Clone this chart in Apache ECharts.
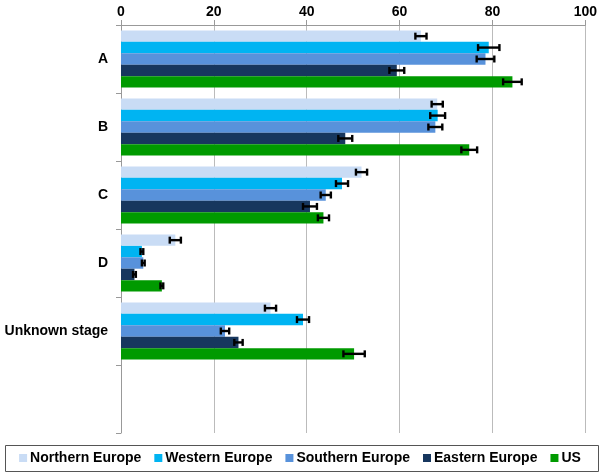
<!DOCTYPE html>
<html>
<head>
<meta charset="utf-8">
<script src="https://cdn.jsdelivr.net/npm/echarts@6/dist/echarts.min.js"></script>
<style>html,body{margin:0;padding:0;background:#fff}#c{width:600px;height:472px}</style>
</head>
<body>
<div id="c"></div>
<script>
const categories = ['A', 'B', 'C', 'D', 'Unknown stage', ''];
const seriesNames = ['Northern Europe', 'Western Europe', 'Southern Europe', 'Eastern Europe', 'US'];
const colors = ['#C9DCF5', '#00B4F2', '#5892DB', '#17375E', '#009A00'];
const northern = [64.6, 68.1, 51.8, 11.7, 32.2, null];
const western  = [79.2, 68.2, 47.6, 4.5, 39.2, null];
const southern = [78.5, 67.7, 44.1, 4.8, 22.4, null];
const eastern  = [59.4, 48.3, 40.7, 2.9, 25.3, null];
const us       = [84.3, 75.0, 43.6, 8.8, 50.2, null];
const northernErr = [1.2, 1.2, 1.2, 1.2, 1.2, null];
const westernErr  = [2.3, 1.6, 1.3, 0.3, 1.3, null];
const southernErr = [1.9, 1.5, 1.1, 0.3, 0.9, null];
const easternErr  = [1.6, 1.5, 1.5, 0.3, 0.9, null];
const usErr       = [2.0, 1.7, 1.2, 0.3, 2.3, null];
const xTicks = [0, 20, 40, 60, 80, 100];

const values = [northern, western, southern, eastern, us];
const errs = [northernErr, westernErr, southernErr, easternErr, usErr];
const GAP = 0.16;
const N = seriesNames.length;

const chart = echarts.init(document.getElementById('c'), null, {renderer: 'canvas'});
const series = [];
values.forEach((vals, i) => {
  series.push({
    name: seriesNames[i], type: 'bar', data: vals,
    barCategoryGap: (GAP * 100) + '%', barGap: '0%',
    itemStyle: {color: colors[i]}, animation: false
  });
});
values.forEach((vals, i) => {
  const data = [];
  vals.forEach((v, k) => { if (v != null) data.push([k, v, errs[i][k]]); });
  series.push({
    type: 'custom', name: 'err' + i, silent: true, animation: false, z: 10,
    encode: {x: 1, y: 0},
    data: data,
    renderItem: function (params, api) {
      const cat = api.value(0), v = api.value(1), e = api.value(2);
      const band = api.size([0, 1])[1];
      const used = band * (1 - GAP);
      const bw = used / N;
      const c = api.coord([v, cat]);
      const y = c[1] - used / 2 + bw * (i + 0.5);
      const x1 = api.coord([v - e, cat])[0];
      const x2 = api.coord([v + e, cat])[0];
      const h = 3.5;
      const st = {stroke: '#000', lineWidth: 2.4};
      return {type: 'group', children: [
        {type: 'line', shape: {x1: x1, y1: y, x2: x2, y2: y}, style: st},
        {type: 'line', shape: {x1: x1, y1: y - h, x2: x1, y2: y + h}, style: st},
        {type: 'line', shape: {x1: x2, y1: y - h, x2: x2, y2: y + h}, style: st}
      ]};
    }
  });
});

chart.setOption({
  animation: false,
  textStyle: {fontFamily: 'Liberation Sans, Arial, sans-serif'},
  grid: {left: 121, right: 11, top: 25, bottom: 39, containLabel: false},
  xAxis: {
    type: 'value', position: 'top', min: xTicks[0], max: xTicks[xTicks.length - 1], interval: 20,
    axisLine: {show: true, lineStyle: {color: '#999', width: 1}},
    axisTick: {show: true, length: 5, lineStyle: {color: '#999'}},
    axisLabel: {color: '#000', fontWeight: 'bold', fontSize: 14, margin: 6,
      fontFamily: 'Liberation Sans, Arial, sans-serif'},
    splitLine: {show: true, lineStyle: {color: '#bbb', width: 1}}
  },
  yAxis: {
    type: 'category', inverse: true, data: categories,
    axisLine: {show: true, lineStyle: {color: '#999'}},
    axisTick: {show: true, length: 5, alignWithLabel: false, lineStyle: {color: '#999'}},
    axisLabel: {color: '#000', fontWeight: 'bold', fontSize: 14, margin: 13,
      fontFamily: 'Liberation Sans, Arial, sans-serif'},
    splitLine: {show: false}
  },
  legend: {
    top: 446, left: 'center',
    data: seriesNames,
    itemWidth: 8, itemHeight: 8, itemGap: 13,
    icon: 'rect',
    textStyle: {color: '#000', fontWeight: 'bold', fontSize: 14, padding: [0, 0, 0, -2],
      fontFamily: 'Liberation Sans, Arial, sans-serif'}
  },
  graphic: [{
    type: 'rect', left: 3, top: 443, shape: {width: 593, height: 26},
    style: {fill: 'none', stroke: '#555', lineWidth: 1}, silent: true
  }],
  series: series
});
</script>
</body>
</html>
